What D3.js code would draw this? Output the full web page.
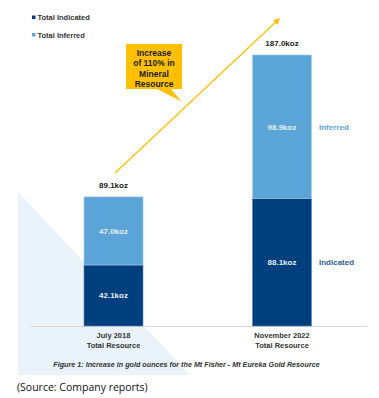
<!DOCTYPE html>
<html><head><meta charset="utf-8">
<script src="https://cdn.jsdelivr.net/npm/d3@7"></script>
<style>body{margin:0;background:#fff}svg{display:block}</style>
</head><body>
<svg id="c" width="379" height="398"></svg>
<script>
const categories = ["July 2018|Total Resource", "November 2022|Total Resource"];
const indicated = [42.1, 88.1];
const inferred = [47.0, 98.9];
const totals = [89.1, 187.0];
const seriesNames = ["Total Indicated", "Total Inferred"];
const colors = {ind: "#003F7D", inf: "#5BA4D8"};

const svg = d3.select("#c");
const F = "'Liberation Sans', Arial, sans-serif";

// background triangle
svg.append("path").attr("d", "M18,192 L18,375 L190,375 Z").attr("fill", "#EAF3FA");

const x = d3.scalePoint().domain(categories).range([113.5, 282]);
const y = d3.scaleLinear().domain([0, 187]).range([326, 55]);
const bw = 59;

// axis line
svg.append("line").attr("x1", 30).attr("x2", 367).attr("y1", 326.5).attr("y2", 326.5)
  .attr("stroke", "#D9D9D9").attr("stroke-width", 1);

const stack = categories.map((c, i) => ({c, ind: indicated[i], inf: inferred[i], tot: totals[i]}));
const g = svg.append("g");
stack.forEach(d => {
  const cx = x(d.c);
  g.append("rect").attr("x", cx - bw/2).attr("width", bw)
    .attr("y", y(d.ind)).attr("height", y(0) - y(d.ind))
    .attr("fill", colors.ind).attr("stroke", "#5f86b3").attr("stroke-width", 0.6);
  g.append("rect").attr("x", cx - bw/2).attr("width", bw)
    .attr("y", y(d.ind + d.inf)).attr("height", y(d.ind) - y(d.ind + d.inf))
    .attr("fill", colors.inf).attr("stroke", "#a9cdea").attr("stroke-width", 0.6);
  g.append("text").attr("x", cx).attr("y", (y(0) + y(d.ind)) / 2 + 3)
    .attr("text-anchor", "middle").attr("fill", "#E8EEF5").attr("font-family", F)
    .attr("font-size", 8).attr("font-weight", "bold").text(d.ind.toFixed(1) + "koz");
  g.append("text").attr("x", cx).attr("y", (y(d.ind) + y(d.ind + d.inf)) / 2 + 3)
    .attr("text-anchor", "middle").attr("fill", "#E8EEF5").attr("font-family", F)
    .attr("font-size", 8).attr("font-weight", "bold").text(d.inf.toFixed(1) + "koz");
  g.append("text").attr("x", cx).attr("y", y(d.tot) - 9)
    .attr("text-anchor", "middle").attr("fill", "#1a1a1a").attr("font-family", F)
    .attr("font-size", 8).attr("font-weight", "bold").text(d.tot.toFixed(1) + "koz");
  const parts = d.c.split("|");
  parts.forEach((p, k) => {
    g.append("text").attr("x", cx).attr("y", 338 + k * 9.5)
      .attr("text-anchor", "middle").attr("fill", "#333").attr("font-family", F)
      .attr("font-size", 7.5).attr("font-weight", "bold").text(p);
  });
});

// side labels for right bar
const last = stack[1];
svg.append("text").attr("x", 319).attr("y", (y(last.ind) + y(last.tot)) / 2 + 3)
  .attr("fill", colors.inf).attr("font-family", F).attr("font-size", 8).attr("font-weight", "bold").text("Inferred");
svg.append("text").attr("x", 319).attr("y", (y(0) + y(last.ind)) / 2 + 3)
  .attr("fill", "#2D5F93").attr("font-family", F).attr("font-size", 8).attr("font-weight", "bold").text("Indicated");

// legend
[colors.ind, colors.inf].forEach((c, i) => {
  svg.append("rect").attr("x", 32).attr("y", 15.5 + i * 17.5).attr("width", 3.5).attr("height", 3.5).attr("fill", c);
  svg.append("text").attr("x", 37.5).attr("y", 20 + i * 17.5).attr("fill", "#333")
    .attr("font-family", F).attr("font-size", 7.5).attr("font-weight", "bold").text(seriesNames[i]);
});

// arrow
const defs = svg.append("defs");
defs.append("marker").attr("id", "ah").attr("viewBox", "0 0 10 10").attr("refX", 8).attr("refY", 5)
  .attr("markerWidth", 5).attr("markerHeight", 5).attr("orient", "auto")
  .append("path").attr("d", "M0,0 L10,5 L0,10 Z").attr("fill", "#FFC000");
svg.append("line").attr("x1", 115).attr("y1", 173).attr("x2", 279).attr("y2", 19)
  .attr("stroke", "#FFC000").attr("stroke-width", 1.3).attr("marker-end", "url(#ah)");

// callout
svg.append("path").attr("d", "M126,44 L182,44 L182,89 L171,89 L181.5,101.5 L157,89 L126,89 Z").attr("fill", "#FFC000");
["Increase", "of 110% in", "Mineral", "Resource"].forEach((t, i) => {
  svg.append("text").attr("x", 154).attr("y", 56 + i * 10.3).attr("text-anchor", "middle")
    .attr("fill", "#1a1a1a").attr("font-family", F).attr("font-size", 8.5).attr("font-weight", "bold").text(t);
});

// caption
svg.append("text").attr("x", 186.5).attr("y", 366.5).attr("text-anchor", "middle").attr("fill", "#333")
  .attr("font-family", F).attr("font-size", 7.2).attr("font-style", "italic").attr("font-weight", "bold")
  .text("Figure 1: Increase in gold ounces for the Mt Fisher - Mt Eureka Gold Resource");
svg.append("text").attr("x", 17).attr("y", 391).attr("fill", "#111")
  .attr("font-family", "'Open Sans', sans-serif").attr("font-size", 10.5).text("(Source: Company reports)");
</script>
</body></html>
